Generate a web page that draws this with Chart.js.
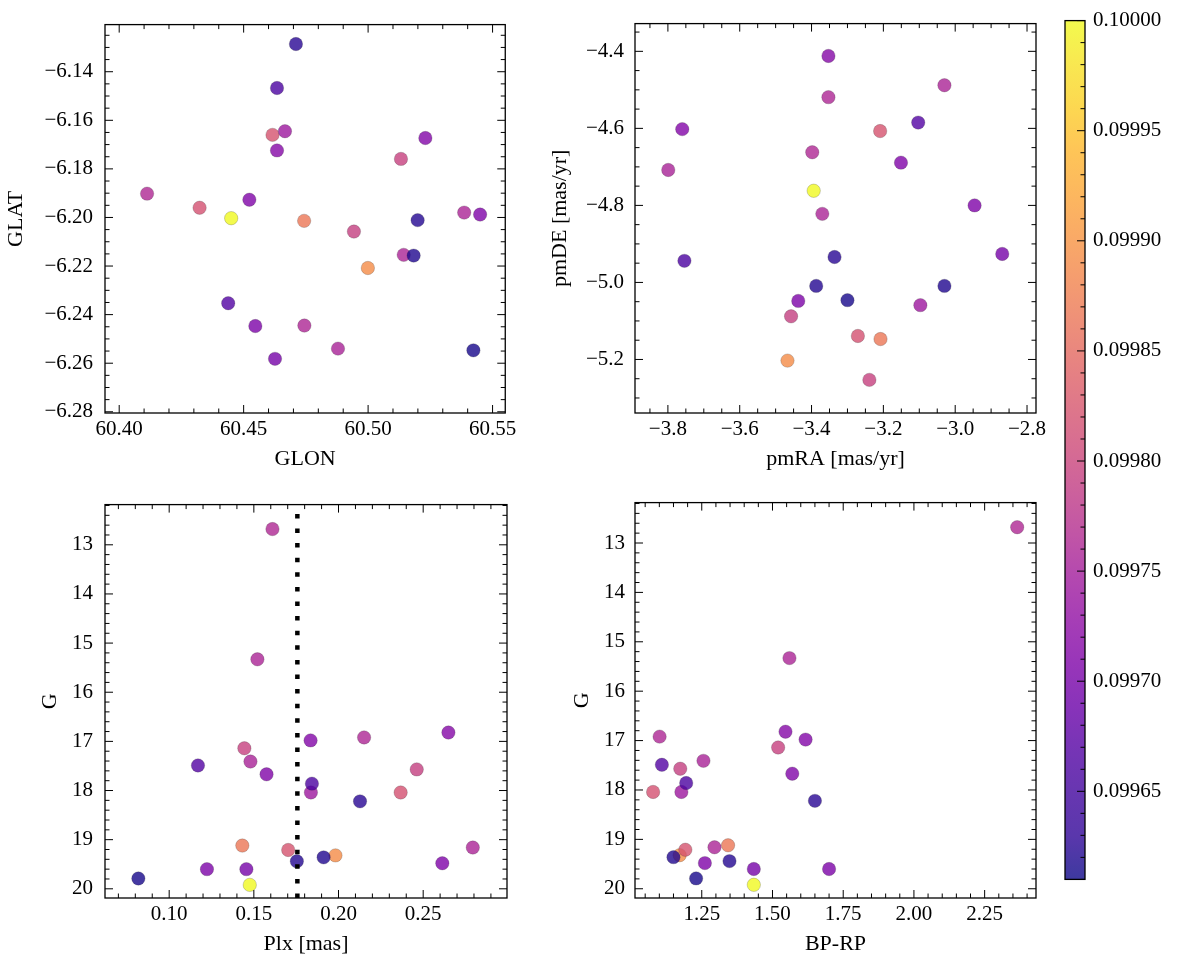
<!DOCTYPE html>
<html>
<head>
<meta charset="utf-8">
<script src="https://cdn.jsdelivr.net/npm/chart.js@4.4.1/dist/chart.umd.min.js"></script>
<style>
  body { margin: 0; background: #fff; }
  #wrap { position: relative; width: 1177px; height: 965px; }
  canvas { position: absolute; }
</style>
</head>
<body>
<div id="wrap">
  <canvas id="c1" width="520" height="480" style="left:0px;top:0px"></canvas>
  <canvas id="c2" width="530" height="480" style="left:520px;top:0px"></canvas>
  <canvas id="c3" width="520" height="485" style="left:0px;top:480px"></canvas>
  <canvas id="c4" width="530" height="485" style="left:520px;top:480px"></canvas>
  <canvas id="cb" width="127" height="900" style="left:1050px;top:0px"></canvas>
</div>
<script>
// one entry per star, same order in every array (darkest drawn last)
const glon = [60.4450, 60.4999, 60.4743, 60.4616, 60.4323, 60.5132, 60.4943, 60.4112, 60.5386, 60.4744, 60.4879, 60.5143, 60.4666,
              60.4634, 60.5230, 60.4523, 60.5450, 60.4547, 60.4626, 60.4438, 60.4634, 60.4710, 60.5199, 60.5183, 60.5423];
const glat = [-6.2003, -6.2208, -6.2014, -6.1660, -6.1960, -6.1759, -6.2058, -6.1902, -6.1980, -6.2445, -6.2540, -6.2154, -6.1645,
              -6.1724, -6.1673, -6.1927, -6.1988, -6.2447, -6.2582, -6.2353, -6.1467, -6.1286, -6.2011, -6.2157, -6.2547];
const pmra = [-3.394, -3.467, -3.208, -3.209, -3.271, -3.239, -3.457, -3.398, -3.030, -3.353, -3.799, -3.370, -3.097,
              -3.353, -3.760, -3.151, -2.946, -3.437, -2.869, -3.103, -3.754, -3.336, -3.387, -3.030, -3.300];
const pmde = [-4.762, -5.203, -5.147, -4.607, -5.139, -5.253, -5.088, -4.662, -4.488, -4.519, -4.708, -4.822, -5.059,
              -4.412, -4.602, -4.689, -4.800, -5.048, -4.926, -4.585, -4.944, -4.934, -5.009, -5.009, -5.046];
const plx  = [0.1476, 0.1982, 0.1432, 0.1703, 0.2367, 0.1444, 0.2462, 0.1610, 0.1521, 0.2151, 0.1480, 0.2793, 0.1837,
              0.2649, 0.1835, 0.1575, 0.2613, 0.1223, 0.1456, 0.1170, 0.1843, 0.2127, 0.1754, 0.1912, 0.0818];
const gmag = [19.92, 19.32, 19.12, 19.21, 18.04, 17.14, 17.57, 12.68, 15.33, 16.92, 17.41, 19.16, 18.04,
              16.82, 16.98, 17.67, 19.48, 19.60, 19.60, 17.49, 17.86, 18.22, 19.44, 19.36, 19.79];
const bprp = [1.434, 1.172, 1.343, 1.192, 1.078, 1.520, 1.174, 2.365, 1.560, 1.101, 1.256, 1.295, 1.178,
              1.546, 1.617, 1.570, 1.261, 1.700, 1.434, 1.109, 1.195, 1.650, 1.348, 1.150, 1.230];
const cval = [0.100000, 0.099891, 0.099866, 0.099822, 0.099818, 0.099795, 0.099792, 0.099762, 0.099758, 0.099760, 0.099756, 0.099758, 0.099742,
              0.099715, 0.099712, 0.099710, 0.099708, 0.099706, 0.099700, 0.099668, 0.099660, 0.099625, 0.099622, 0.099620, 0.099615];

const cmin = 0.09961, cmax = 0.1;
const plxCut = 0.1757;   // dotted line in the Plx panel

// matplotlib "plasma", 0 -> 1
const plasma = ['#0d0887', '#300597', '#41049d', '#5302a3', '#6a00a8', '#7e03a8', '#8f0da4', '#a01a9c', '#b12a90', '#bf3984', '#cc4778',
                '#d6556d', '#e16462', '#ea7457', '#f2844b', '#f89540', '#fca636', '#feb72d', '#fcce25', '#f7e225', '#f0f921'];
const ALPHA = 0.8;

function hex(c) { return [1, 3, 5].map(i => parseInt(c.substr(i, 2), 16)); }
function cmap(v) {
    let t = Math.min(1, Math.max(0, (v - cmin) / (cmax - cmin))) * (plasma.length - 1);
    const i = Math.min(plasma.length - 2, Math.floor(t)), f = t - i;
    const a = hex(plasma[i]), b = hex(plasma[i + 1]);
    const rgb = a.map((x, k) => Math.round(x + (b[k] - x) * f));
    return 'rgba(' + rgb.join(',') + ',' + ALPHA + ')';
}
const colors = cval.map(cmap);

Chart.defaults.font.family = '"Liberation Serif", "Times New Roman", serif';
Chart.defaults.color = '#000';

// frame + inward major/minor ticks, drawn from the scales
const inwardTicks = {
    id: 'inwardTicks',
    afterDraw(chart, args, o) {
        const ctx = chart.ctx, a = chart.chartArea;
        ctx.save();
        ctx.strokeStyle = '#000';
        ctx.lineWidth = 1;
        const mark = (sc, v, len, sides) => {
            const p = sc.getPixelForValue(v);
            ctx.beginPath();
            if (sc.isHorizontal()) {
                ctx.moveTo(p, a.bottom); ctx.lineTo(p, a.bottom - len);
                ctx.moveTo(p, a.top); ctx.lineTo(p, a.top + len);
            } else {
                if (sides !== 'right') { ctx.moveTo(a.left, p); ctx.lineTo(a.left + len, p); }
                ctx.moveTo(a.right, p); ctx.lineTo(a.right - len, p);
            }
            ctx.stroke();
        };
        ['x', 'y'].forEach(id => {
            const sc = chart.scales[id], m = o[id];
            if (!m) return;
            sc.ticks.forEach(t => mark(sc, t.value, 8, o.sides));
            const k0 = Math.ceil(sc.min / m.minor - 1e-6), k1 = Math.floor(sc.max / m.minor + 1e-6);
            for (let k = k0; k <= k1; k++) {
                const v = k * m.minor, r = v / m.major;
                if (Math.abs(r - Math.round(r)) < 1e-6) continue;
                mark(sc, v, 4.5, o.sides);
            }
        });
        ctx.lineWidth = 1.3;
        ctx.strokeRect(a.left, a.top, a.width, a.height);
        ctx.restore();
    }
};

// plasma gradient for the colour bar
const barFill = {
    id: 'barFill',
    beforeDatasetsDraw(chart) {
        const ctx = chart.ctx, a = chart.chartArea;
        const g = ctx.createLinearGradient(0, a.bottom, 0, a.top);
        plasma.forEach((c, i) => g.addColorStop(i / (plasma.length - 1), 'rgba(' + hex(c).join(',') + ',' + ALPHA + ')'));
        ctx.fillStyle = g;
        ctx.fillRect(a.left, a.top, a.width, a.height);
    }
};

function fmt(d) { return v => Number(v).toFixed(d).replace('-', '\u2212'); }

function axis(o) {
    const ax = {
        type: 'linear', min: o.min, max: o.max, reverse: !!o.reverse, position: o.pos,
        grid: { display: false, drawTicks: false },
        border: { display: false },
        ticks: { stepSize: o.step, includeBounds: false, autoSkip: false, maxRotation: 0,
                 padding: o.pad, font: { size: 21 }, callback: fmt(o.dec) },
        afterFit: s => { if (s.isHorizontal()) s.height = o.size; else s.width = o.size; }
    };
    if (o.title) {
        ax.title = { display: true, text: o.title, font: { size: 22 },
                     padding: o.pos === 'bottom' ? { top: 0, bottom: o.tpad } : { top: o.tpad, bottom: 0 } };
    }
    return ax;
}

function panel(id, xs, ys, xo, yo, pad, vline) {
    const sets = [{
        type: 'scatter',
        data: xs.map((x, i) => ({ x: x, y: ys[i] })),
        backgroundColor: colors,
        borderColor: 'rgba(40,40,40,0.35)',
        borderWidth: 0.6,
        pointRadius: 6.7,
        order: 1
    }];
    if (vline !== undefined) {
        sets.push({
            type: 'line',
            data: [{ x: vline, y: yo.max }, { x: vline, y: yo.min }],
            borderColor: '#000', borderWidth: 4.5, borderDash: [4.5, 10.1],
            pointRadius: 0, fill: false, order: 0
        });
    }
    new Chart(document.getElementById(id), {
        type: 'scatter',
        data: { datasets: sets },
        options: {
            responsive: false, animation: false, devicePixelRatio: 1, events: [],
            layout: { padding: pad },
            plugins: { legend: { display: false }, tooltip: { enabled: false },
                       inwardTicks: { x: { major: xo.step, minor: xo.minor }, y: { major: yo.step, minor: yo.minor } } },
            scales: { x: axis(xo), y: axis(yo) }
        },
        plugins: [inwardTicks]
    });
}

panel('c1', glon, glat,
    { min: 60.3943, max: 60.5551, step: 0.05, minor: 0.01, dec: 2, pos: 'bottom', pad: 3.4, size: 67, title: 'GLON', tpad: 7.8 },
    { min: -6.2805, max: -6.1206, step: 0.02, minor: 0.005, dec: 2, pos: 'left', pad: 12, size: 105, title: 'GLAT', tpad: 2.8 },
    { left: 0, top: 15, right: 13, bottom: 0 });

panel('c2', pmra, pmde,
    { min: -3.8916, max: -2.775, step: 0.2, minor: 0.05, dec: 1, pos: 'bottom', pad: 3.4, size: 67, title: 'pmRA [mas/yr]', tpad: 7.8 },
    { min: -5.339, max: -4.328, step: 0.2, minor: 0.05, dec: 1, pos: 'left', pad: 11, size: 115, title: 'pmDE [mas/yr]', tpad: 26.8 },
    { left: 0, top: 15, right: 14, bottom: 0 });

panel('c3', plx, gmag,
    { min: 0.0621, max: 0.2995, step: 0.05, minor: 0.01, dec: 2, pos: 'bottom', pad: 3.4, size: 67, title: 'Plx [mas]', tpad: 7.8 },
    { min: 12.182, max: 20.187, reverse: true, step: 1, minor: 0.2, dec: 0, pos: 'left', pad: 12, size: 105, title: 'G', tpad: 36.8 },
    { left: 0, top: 20, right: 13, bottom: 0 }, plxCut);

panel('c4', bprp, gmag,
    { min: 1.014, max: 2.4315, step: 0.25, minor: 0.05, dec: 2, pos: 'bottom', pad: 3.4, size: 67, title: 'BP-RP', tpad: 7.8 },
    { min: 12.182, max: 20.187, reverse: true, step: 1, minor: 0.2, dec: 0, pos: 'left', pad: 10, size: 115, title: 'G', tpad: 49.3 },
    { left: 0, top: 20, right: 14, bottom: 0 });

// colour bar
new Chart(document.getElementById('cb'), {
    type: 'scatter',
    data: { datasets: [{ data: [] }] },
    options: {
        responsive: false, animation: false, devicePixelRatio: 1, events: [],
        layout: { padding: { left: 15, top: 16, right: 0, bottom: 18 } },
        plugins: { legend: { display: false }, tooltip: { enabled: false },
                   inwardTicks: { sides: 'right', y: { major: 0.00005, minor: 0.00001 } } },
        scales: {
            x: { display: false, min: 0, max: 1 },
            y: axis({ min: cmin, max: cmax, step: 0.00005, dec: 5, pos: 'right', pad: 8, size: 92 })
        }
    },
    plugins: [barFill, inwardTicks]
});
</script>
</body>
</html>
